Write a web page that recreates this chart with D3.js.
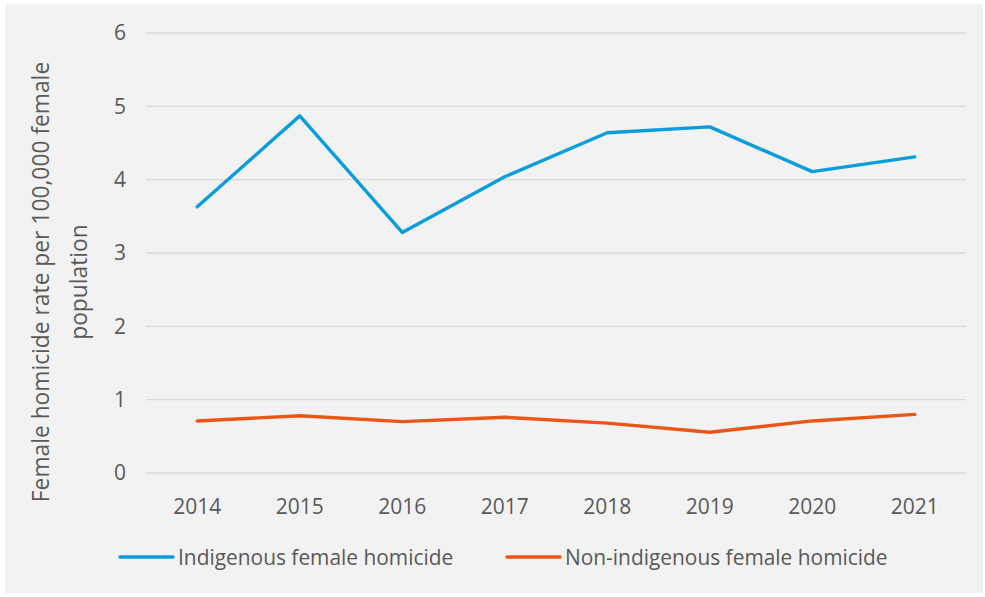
<!DOCTYPE html>
<html><head><meta charset="utf-8">
<script src="https://cdn.jsdelivr.net/npm/d3@7"></script>
<style>body{margin:0;background:#fff;} text{font-family:"Open Sans",sans-serif;fill:#595959;}</style>
</head><body>
<svg id="c" width="985" height="597"></svg>
<script>
const years = ["2014","2015","2016","2017","2018","2019","2020","2021"];
const indigenous = [3.63, 4.87, 3.28, 4.04, 4.64, 4.72, 4.11, 4.31];
const nonIndigenous = [0.71, 0.78, 0.70, 0.76, 0.68, 0.555, 0.71, 0.80];
const yTicks = [0, 1, 2, 3, 4, 5, 6];
const seriesNames = ["Indigenous female homicide", "Non-indigenous female homicide"];
const colors = ["#0a9ddb", "#ea5618"];

(function(){
const svg = d3.select("#c");
svg.append("rect").attr("x",5).attr("y",4).attr("width",978).attr("height",589).attr("fill","#f2f2f2");

const mL = 146, mR = 966, mT = 33, mB = 473;
const x = d3.scaleBand().domain(years).range([mL, mR]);
const y = d3.scaleLinear().domain([0, 6]).range([mB, mT]);

const grid = svg.append("g");
grid.selectAll("line").data(yTicks).join("line")
  .attr("x1", mL).attr("x2", mR)
  .attr("y1", d => y(d)).attr("y2", d => y(d))
  .attr("stroke", "#d9d9d9").attr("stroke-width", 1.3);

const yAxis = svg.append("g").attr("transform", `translate(${mL},0)`)
  .call(d3.axisLeft(y).tickValues(yTicks).tickFormat(d3.format("d")).tickSize(0).tickPadding(20));
yAxis.select(".domain").remove();
yAxis.attr("font-size", 21).attr("font-family", "Open Sans");
yAxis.selectAll("text").style("font-size","21px").attr("fill","#595959");

const xAxis = svg.append("g").attr("transform", `translate(0,${mB})`)
  .call(d3.axisBottom(x).tickSize(0).tickPadding(26));
xAxis.select(".domain").remove();
xAxis.attr("font-size", 21).attr("font-family", "Open Sans");
xAxis.selectAll("text").style("font-size","21px").attr("fill","#595959");

const line = d3.line().x((d,i) => x(years[i]) + x.bandwidth()/2).y(d => y(d));
[indigenous, nonIndigenous].forEach((s, k) => {
  svg.append("path").datum(s).attr("d", line).attr("fill","none")
    .attr("stroke", colors[k]).attr("stroke-width", 3.4)
    .attr("stroke-linejoin","round").attr("stroke-linecap","round");
});

const yt = svg.append("text").attr("transform","rotate(-90)")
  .attr("text-anchor","middle").style("font-size","22.8px");
yt.append("tspan").attr("x",-282).attr("y",49).text("Female homicide rate per 100,000 female");
yt.append("tspan").attr("x",-282).attr("y",87).text("population");

const legX = [120, 507];
seriesNames.forEach((n,k) => {
  const g = svg.append("g");
  g.append("line").attr("x1",legX[k]).attr("x2",legX[k]+53).attr("y1",557).attr("y2",557)
    .attr("stroke",colors[k]).attr("stroke-width",3.4).attr("stroke-linecap","round");
  g.append("text").attr("x",legX[k]+58).attr("y",564.5).style("font-size","20.9px").text(n);
});
})();
</script>
</body></html>
